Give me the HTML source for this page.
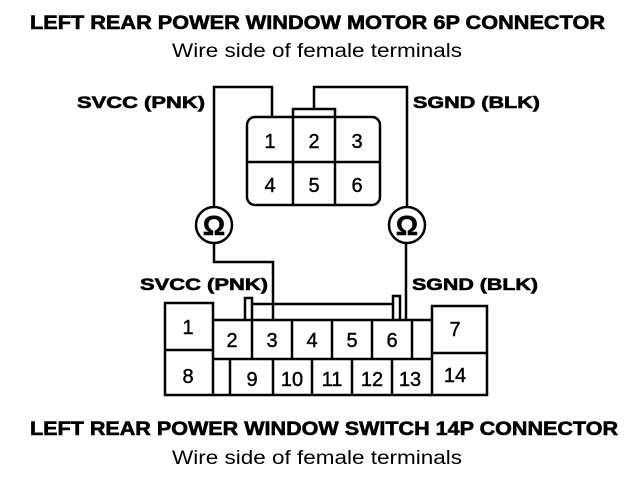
<!DOCTYPE html>
<html><head><style>html,body{margin:0;padding:0;background:#fff}</style></head><body>
<svg width="640" height="478" viewBox="0 0 640 478" xmlns="http://www.w3.org/2000/svg" font-family="Liberation Sans, sans-serif">
<g fill="#000" stroke="#000" stroke-width="0.6">
<text x="30" y="29" font-size="19" font-weight="bold" textLength="575" lengthAdjust="spacingAndGlyphs">LEFT REAR POWER WINDOW MOTOR 6P CONNECTOR</text>
<text x="77" y="108" font-size="17" font-weight="bold" textLength="128" lengthAdjust="spacingAndGlyphs">SVCC (PNK)</text>
<text x="413" y="108" font-size="17" font-weight="bold" textLength="127" lengthAdjust="spacingAndGlyphs">SGND (BLK)</text>
<text x="140" y="290" font-size="17" font-weight="bold" textLength="128" lengthAdjust="spacingAndGlyphs">SVCC (PNK)</text>
<text x="412" y="290" font-size="17" font-weight="bold" textLength="126" lengthAdjust="spacingAndGlyphs">SGND (BLK)</text>
<text x="30" y="435" font-size="19" font-weight="bold" textLength="588" lengthAdjust="spacingAndGlyphs">LEFT REAR POWER WINDOW SWITCH 14P CONNECTOR</text>
</g>
<g fill="#000">
<text x="317" y="57" font-size="19" text-anchor="middle" textLength="290" lengthAdjust="spacingAndGlyphs">Wire side of female terminals</text>
<text x="317" y="464" font-size="19" text-anchor="middle" textLength="290" lengthAdjust="spacingAndGlyphs">Wire side of female terminals</text>
</g>
<g fill="none" stroke="#000" stroke-width="2.5">
<rect x="247" y="117" width="133" height="88" rx="8"/>
<line x1="293" y1="117" x2="293" y2="205"/><line x1="335" y1="117" x2="335" y2="205"/>
<line x1="247" y1="162" x2="380" y2="162"/>
<polyline points="293,117 293,109 335,109 335,117"/>
<polyline points="272,117 272,87 214,87 214,207"/>
<polyline points="314,109 314,87 407,87 407,207"/>
<circle cx="214" cy="225" r="18"/><circle cx="407" cy="225" r="18"/>
<polyline points="214,243 214,262 273,262 273,320"/>
<line x1="406" y1="243" x2="406" y2="320"/>
<rect x="165" y="303" width="48" height="92"/>
<line x1="165" y1="350" x2="213" y2="350"/>
<rect x="432" y="306" width="55" height="89"/>
<line x1="432" y1="353" x2="487" y2="353"/>
<polyline points="213,320 432,320"/>
<line x1="213" y1="359" x2="432" y2="359"/>
<line x1="213" y1="395" x2="432" y2="395"/>
<line x1="252" y1="320" x2="252" y2="359"/><line x1="292" y1="320" x2="292" y2="359"/><line x1="332" y1="320" x2="332" y2="359"/><line x1="372" y1="320" x2="372" y2="359"/><line x1="412" y1="320" x2="412" y2="359"/>
<line x1="230" y1="359" x2="230" y2="395"/><line x1="273" y1="359" x2="273" y2="395"/><line x1="312" y1="359" x2="312" y2="395"/><line x1="352" y1="359" x2="352" y2="395"/><line x1="392" y1="359" x2="392" y2="395"/>
<polyline points="245,320 245,298 252,298 252,320"/>
<polyline points="393,320 393,296 400,296 400,320"/>
<line x1="252" y1="304" x2="393" y2="304"/>
</g>
<g font-size="20" text-anchor="middle" fill="#000" stroke="#000" stroke-width="0.4">
<text x="270" y="148">1</text><text x="314" y="148">2</text><text x="357" y="148">3</text>
<text x="270" y="192">4</text><text x="314" y="192">5</text><text x="357" y="192">6</text>
<text x="214" y="235" font-size="28" font-weight="bold">Ω</text><text x="407" y="235" font-size="28" font-weight="bold">Ω</text>
<text x="188" y="334">1</text><text x="188" y="383">8</text>
<text x="232" y="347">2</text><text x="272" y="347">3</text><text x="312" y="347">4</text><text x="352" y="347">5</text><text x="392" y="347">6</text>
<text x="252" y="386">9</text><text x="292" y="386">10</text><text x="332" y="386">11</text><text x="372" y="386">12</text><text x="410" y="386">13</text>
<text x="455" y="336">7</text><text x="455" y="382">14</text>
</g>
</svg>
</body></html>
